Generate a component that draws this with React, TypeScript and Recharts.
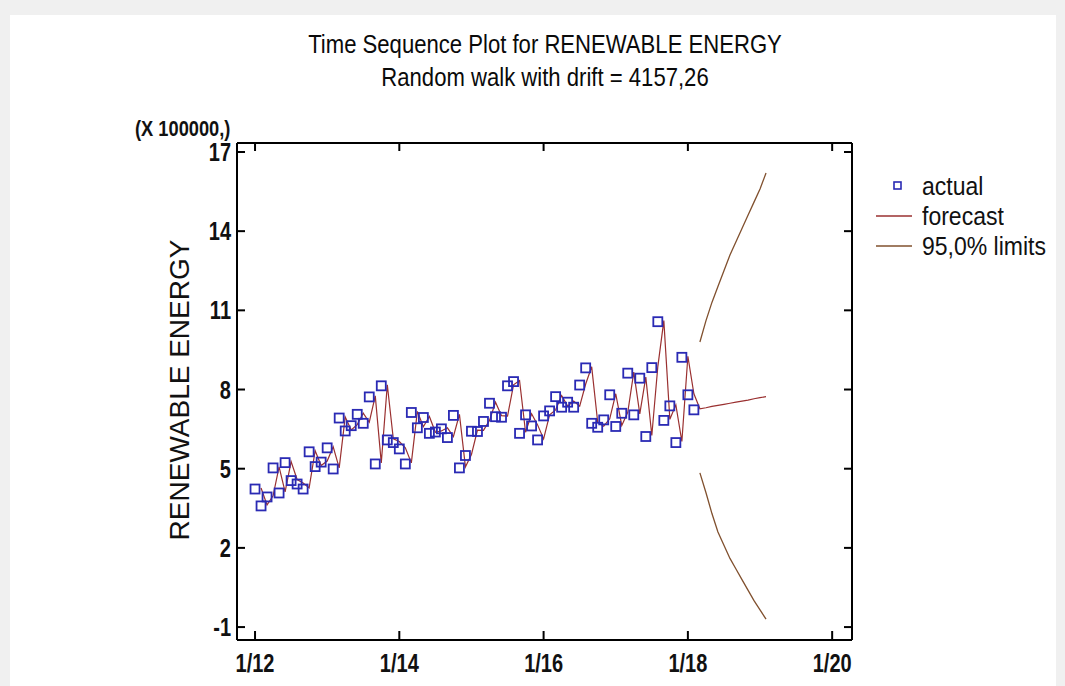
import React from 'react';
import { ComposedChart, Line, Scatter, XAxis, YAxis } from 'recharts';

// monthly values, units of 100000, starting 1/12
const actual = [
  4.23, 3.59, 3.93, 5.03, 4.08, 5.23, 4.55, 4.42, 4.23, 5.64, 5.08, 5.25,
  5.79, 4.99, 6.92, 6.43, 6.63, 7.06, 6.72, 7.72, 5.18, 8.14, 6.09, 5.99,
  5.75, 5.18, 7.13, 6.55, 6.94, 6.34, 6.39, 6.51, 6.18, 7.02, 5.03, 5.5,
  6.42, 6.41, 6.79, 7.48, 6.97, 6.95, 8.14, 8.3, 6.34, 7.04, 6.62, 6.09,
  7.0, 7.19, 7.73, 7.33, 7.52, 7.33, 8.17, 8.82, 6.72, 6.57, 6.85, 7.8,
  6.6, 7.1, 8.62, 7.04, 8.43, 6.22, 8.83, 10.57, 6.83, 7.38, 5.99, 9.22,
  7.8, 7.23,
];

// one-step forecasts from month 2 (2/12) through 2/19
const forecast = [
  4.27, 3.63, 3.97, 5.07, 4.12, 5.27, 4.59, 4.46, 4.27, 5.68, 5.12,
  5.29, 5.83, 5.03, 6.96, 6.47, 6.67, 7.1, 6.76, 7.76, 5.22, 8.18, 6.13,
  6.03, 5.79, 5.22, 7.17, 6.59, 6.98, 6.38, 6.43, 6.55, 6.22, 7.06, 5.07,
  5.54, 6.46, 6.45, 6.83, 7.52, 7.01, 6.99, 8.18, 8.34, 6.38, 7.08, 6.66,
  6.13, 7.04, 7.23, 7.77, 7.37, 7.56, 7.37, 8.21, 8.86, 6.76, 6.61, 6.89,
  7.84, 6.64, 7.14, 8.66, 7.08, 8.47, 6.26, 8.87, 10.61, 6.87, 7.42, 6.03,
  9.26, 7.84, 7.27, 7.31, 7.36, 7.4, 7.44, 7.48, 7.52, 7.56, 7.6, 7.65,
  7.69, 7.73,
];

// 95% limits for 3/18 .. 2/19
const upper = [9.8, 10.6, 11.3, 11.9, 12.5, 13.1, 13.6, 14.1, 14.6, 15.1, 15.6, 16.2];
const lower = [4.84, 4.1, 3.3, 2.6, 2.1, 1.6, 1.2, 0.8, 0.4, 0.0, -0.35, -0.7];

const xTicks = [0, 24, 48, 72, 96];
const xTickLabels = ['1/12', '1/14', '1/16', '1/18', '1/20'];
const yTicks = [-1, 2, 5, 8, 11, 14, 17];

const limitStart = actual.length;

const actualData = actual.map((v, i) => ({ t: i, actual: v }));
const forecastData = forecast.map((v, i) => ({ t: i + 1, forecast: v }));
const upperData = upper.map((v, i) => ({ t: limitStart + i, upper: v }));
const lowerData = lower.map((v, i) => ({ t: limitStart + i, lower: v }));

const FONT = '"Liberation Sans", Arial, sans-serif';
const M = 6;
const BLUE = '#2a2ab4';
const RED = '#9a3030';
const BROWN = '#80502e';

// condensed look: scale the text horizontally
const narrow = (sx: number, origin = 'left center'): React.CSSProperties => ({
  transform: `scaleX(${sx})`,
  transformOrigin: origin,
  whiteSpace: 'nowrap',
});

const LeftTick = ({ x, y, payload }: any) => (
  <g>
    <line x1={x + M} x2={x + M + 8} y1={y} y2={y} stroke="#000" strokeWidth={2} />
    <text
      transform={`translate(${x},${y + 9}) scale(0.8,1)`}
      textAnchor="end" fontFamily={FONT} fontWeight="bold" fontSize={25} fill="#111"
    >
      {payload.value}
    </text>
  </g>
);

const RightTick = ({ x, y }: any) => (
  <line x1={x - M} x2={x - M - 8} y1={y} y2={y} stroke="#000" strokeWidth={2} />
);

const BottomTick = ({ x, y, payload }: any) => (
  <g>
    <line x1={x} x2={x} y1={y - M} y2={y - M - 9} stroke="#000" strokeWidth={2} />
    <text
      transform={`translate(${x},${y + 26}) scale(0.8,1)`}
      textAnchor="middle" fontFamily={FONT} fontWeight="bold" fontSize={25} fill="#111"
    >
      {xTickLabels[xTicks.indexOf(payload.value)]}
    </text>
  </g>
);

const TopTick = ({ x, y }: any) => (
  <line x1={x} x2={x} y1={y + M} y2={y + M + 8} stroke="#000" strokeWidth={2} />
);

const HollowSquare = ({ cx, cy }: any) => (
  <rect x={cx - 4.5} y={cy - 4.5} width={9} height={9} fill="none" stroke={BLUE} strokeWidth={1.8} />
);

const legendRows = [
  { label: 'actual', kind: 'square', color: BLUE },
  { label: 'forecast', kind: 'line', color: RED },
  { label: '95,0% limits', kind: 'line', color: BROWN },
];

const LegendBox = () => (
  <div style={{ position: 'absolute', left: 875, top: 171, fontFamily: FONT, fontSize: 25, color: '#111', lineHeight: '30px' }}>
    {legendRows.map((r) => (
      <div key={r.label} style={{ display: 'flex', alignItems: 'center', height: 30 }}>
        <svg width={47} height={30}>
          {r.kind === 'square' ? (
            <rect x={19} y={11} width={7} height={7} fill="none" stroke={r.color} strokeWidth={1.6} />
          ) : (
            <line x1={1} x2={37} y1={15} y2={15} stroke={r.color} strokeWidth={1.3} />
          )}
        </svg>
        <span style={narrow(0.92)}>{r.label}</span>
      </div>
    ))}
  </div>
);

export default function App() {
  return (
    <div style={{ position: 'fixed', left: 0, top: 0, width: 1065, height: 686, background: '#f0f0f0', overflow: 'hidden' }}>
      <div style={{ position: 'absolute', left: 10, top: 15, width: 1046, height: 680, background: '#fff' }} />
      <div style={{ position: 'absolute', left: 0, top: 28, width: 1090, textAlign: 'center', fontFamily: FONT, fontSize: 26, color: '#0a0a0a', lineHeight: '33px' }}>
        <div style={narrow(0.85, 'center')}>Time Sequence Plot for RENEWABLE ENERGY</div>
        <div style={narrow(0.85, 'center')}>Random walk with drift = 4157,26</div>
      </div>
      <div style={{ position: 'absolute', left: 135, top: 116, fontFamily: FONT, fontWeight: 'bold', fontSize: 22, color: '#111', ...narrow(0.83) }}>
        (X 100000,)
      </div>
      <div style={{ position: 'absolute', left: 180, top: 390, width: 0, height: 0 }}>
        <div style={{ position: 'absolute', transform: 'translate(-50%, -50%) rotate(-90deg)', whiteSpace: 'nowrap', fontFamily: FONT, fontSize: 28, color: '#111' }}>
          RENEWABLE ENERGY
        </div>
      </div>
      <ComposedChart
        width={1065}
        height={686}
        margin={{ top: 133, right: 203, bottom: 6, left: 177 }}
        style={{ position: 'absolute', left: 0, top: 0 }}
      >
        <XAxis
          xAxisId="b" dataKey="t" type="number" domain={[-3, 99.3]} ticks={xTicks} allowDataOverflow
          height={40} tickSize={0} tickMargin={M} tick={<BottomTick />} tickLine={false}
          axisLine={{ stroke: '#000', strokeWidth: 2 }}
        />
        <XAxis
          xAxisId="tp" orientation="top" dataKey="t" type="number" domain={[-3, 99.3]} ticks={xTicks} allowDataOverflow
          height={10} tickSize={0} tickMargin={M} tick={<TopTick />} tickLine={false}
          axisLine={{ stroke: '#000', strokeWidth: 2 }}
        />
        <YAxis
          yAxisId="l" type="number" domain={[-1.49, 17.34]} ticks={yTicks} allowDataOverflow
          width={60} tickSize={0} tickMargin={M} tick={<LeftTick />} tickLine={false}
          axisLine={{ stroke: '#000', strokeWidth: 2 }}
        />
        <YAxis
          yAxisId="r" orientation="right" type="number" domain={[-1.49, 17.34]} ticks={yTicks} allowDataOverflow
          width={10} tickSize={0} tickMargin={M} tick={<RightTick />} tickLine={false}
          axisLine={{ stroke: '#000', strokeWidth: 2 }}
        />
        <Line xAxisId="b" yAxisId="l" data={upperData} dataKey="upper" type="linear" stroke={BROWN} strokeWidth={1.3} dot={false} isAnimationActive={false} />
        <Line xAxisId="b" yAxisId="l" data={lowerData} dataKey="lower" type="linear" stroke={BROWN} strokeWidth={1.3} dot={false} isAnimationActive={false} />
        <Line xAxisId="b" yAxisId="l" data={forecastData} dataKey="forecast" type="linear" stroke={RED} strokeWidth={1.2} dot={false} isAnimationActive={false} />
        <Scatter xAxisId="b" yAxisId="l" data={actualData} dataKey="actual" shape={<HollowSquare />} isAnimationActive={false} />
      </ComposedChart>
      <LegendBox />
    </div>
  );
}
